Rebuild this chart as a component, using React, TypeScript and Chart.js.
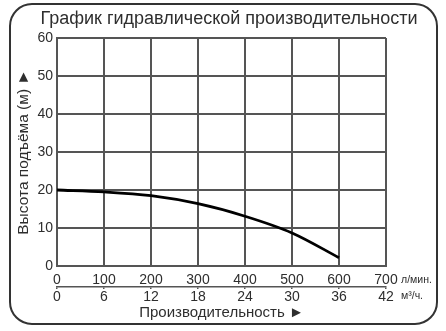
import React, { useEffect, useRef } from "react";
import { Chart, registerables } from "chart.js";

Chart.register(...registerables);

const flowLpm = [0, 100, 200, 300, 400, 500, 600];
const headM = [20, 19.5, 18.5, 16.4, 13.1, 8.7, 2.2];
const titleText = "График гидравлической производительности";
const yTitle = "Высота подъёма (м) ►";
const xTitle = "Производительность ►";
const unitTop = "л/мин.";
const unitBottom = "м³/ч.";

const FONT = "'Liberation Sans', Arial, sans-serif";
const TEXT = "#2e2e2e";
const GRID = "#555555";

const decorPlugin = {
  id: "decor",
  beforeDraw(chart: any) {
    const ctx = chart.ctx;
    ctx.save();
    ctx.fillStyle = "#ffffff";
    ctx.fillRect(0, 0, chart.width, chart.height);
    ctx.restore();
  },
  afterDraw(chart: any) {
    const ctx = chart.ctx;
    const x = chart.scales.x;
    const x2 = chart.scales.x2;
    ctx.save();
    // frame
    ctx.strokeStyle = "#333333";
    ctx.lineWidth = 2;
    ctx.beginPath();
    ctx.roundRect(10, 4, 427, 320, 22);
    ctx.stroke();
    // title
    ctx.fillStyle = TEXT;
    ctx.font = `18px ${FONT}`;
    ctx.textAlign = "center";
    ctx.textBaseline = "middle";
    ctx.fillText(titleText, 229, 19);
    // units
    ctx.font = `10.5px ${FONT}`;
    ctx.textAlign = "left";
    ctx.fillText(unitTop, x.right + 15, 280);
    ctx.fillText(unitBottom, x2.right + 15, 296);
    ctx.restore();
  },
};

export default function App() {
  const ref = useRef<HTMLCanvasElement | null>(null);
  useEffect(() => {
    document.body.style.margin = "0";
    const canvas = ref.current!;
    const chart = new Chart(canvas, {
      type: "line",
      data: {
        datasets: [
          {
            data: flowLpm.map((f, i) => ({ x: f, y: headM[i] })),
            borderColor: "#000000",
            borderWidth: 2.8,
            pointRadius: 0,
            tension: 0.4,
            cubicInterpolationMode: "monotone",
            fill: false,
          },
        ],
      },
      options: {
        responsive: false,
        animation: false,
        layout: { padding: { left: 14, right: 60, top: 38, bottom: 8 } },
        plugins: { legend: { display: false }, tooltip: { enabled: false }, title: { display: false } },
        scales: {
          x: {
            type: "linear",
            position: "bottom",
            min: 0,
            max: 700,
            afterFit: (s: any) => {
              s.height = 21;
            },
            ticks: { stepSize: 100, color: TEXT, font: { family: FONT, size: 14 }, padding: 6, maxRotation: 0 },
            grid: { color: GRID, lineWidth: 2, drawTicks: false },
            border: { color: GRID, width: 2 },
          },
          x2: {
            type: "linear",
            position: "bottom",
            min: 0,
            max: 42,
            afterFit: (s: any) => {
              s.height = 36;
            },
            ticks: { stepSize: 6, color: TEXT, font: { family: FONT, size: 14 }, padding: 0, maxRotation: 0 },
            grid: { drawOnChartArea: false, drawTicks: true, tickLength: 2, color: GRID, lineWidth: 1.5 },
            border: { color: GRID, width: 1.5 },
            title: { display: true, text: xTitle, color: TEXT, font: { family: FONT, size: 15 }, padding: { top: 0, bottom: 1 } },
          },
          y: {
            type: "linear",
            min: 0,
            max: 60,
            afterFit: (s: any) => {
              s.width = 43;
            },
            ticks: { stepSize: 10, color: TEXT, font: { family: FONT, size: 14 }, padding: 4 },
            grid: { color: GRID, lineWidth: 2, drawTicks: false },
            border: { color: GRID, width: 2 },
            title: { display: true, text: yTitle, color: TEXT, font: { family: FONT, size: 15.5 }, padding: 0 },
          },
        },
      },
      plugins: [decorPlugin],
    } as any);
    return () => chart.destroy();
  }, []);
  return (
    <div style={{ width: 446, height: 331 }}>
      <canvas ref={ref} width={446} height={331} style={{ display: "block" }} />
    </div>
  );
}
